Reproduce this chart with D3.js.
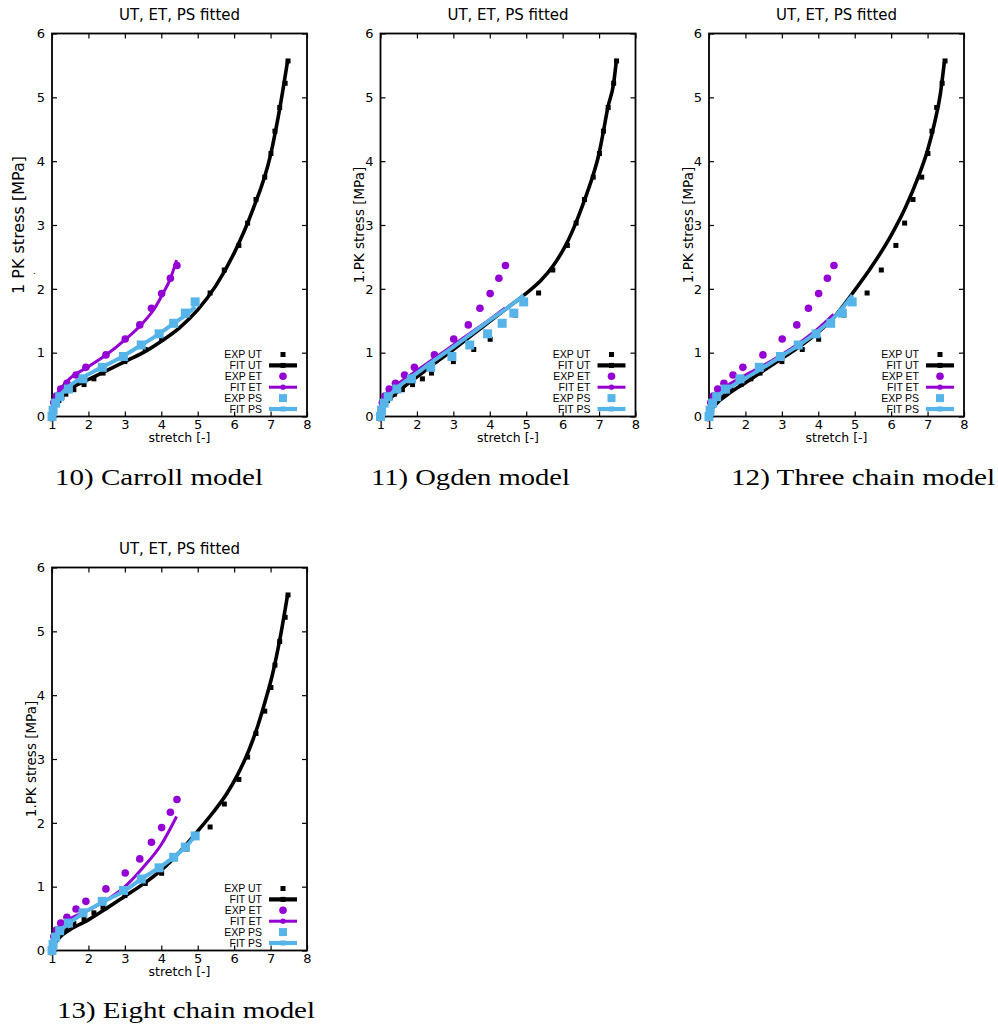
<!DOCTYPE html>
<html>
<head>
<meta charset="utf-8">
<script src="https://cdn.jsdelivr.net/npm/d3@7"></script>
<style>
  body { margin: 0; background: #fff; }
  svg { display: block; }
</style>
</head>
<body>
<div id="chart"></div>
<script>
// tick values
const xTicks = [1, 2, 3, 4, 5, 6, 7, 8];
const yTicks = [0, 1, 2, 3, 4, 5, 6];

// experimental data [stretch, stress] - same in every panel
const expUT = [[1.0,0],[1.03,0.07],[1.07,0.13],[1.12,0.19],[1.19,0.25],[1.27,0.30],[1.38,0.35],[1.6,0.42],[1.88,0.50],[2.15,0.59],[2.40,0.68],[3.0,0.86],[3.56,1.05],[4.01,1.21],[4.70,1.59],[5.34,1.935],[5.73,2.295],[6.13,2.68],[6.37,3.03],[6.60,3.40],[6.84,3.75],[7.01,4.12],[7.12,4.47],[7.25,4.84],[7.40,5.22],[7.48,5.57]];
const expET = [[1.0,0],[1.02,0.1],[1.05,0.22],[1.12,0.32],[1.24,0.43],[1.41,0.52],[1.66,0.65],[1.93,0.77],[2.48,0.965],[3.01,1.215],[3.41,1.435],[3.73,1.695],[4.01,1.925],[4.25,2.165],[4.43,2.365]];
const expPS = [[1.0,0],[1.03,0.1],[1.1,0.21],[1.21,0.31],[1.45,0.43],[1.85,0.59],[2.38,0.77],[2.96,0.94],[3.45,1.12],[3.94,1.295],[4.34,1.46],[4.66,1.62],[4.93,1.795]];

// fitted curves per model
const carrollUT = [[1,0],[1.05,0.14],[1.15,0.27],[1.3,0.36],[1.5,0.44],[2,0.58],[2.5,0.72],[3,0.86],[3.5,1.0],[4,1.18],[4.5,1.39],[5,1.67],[5.5,2.05],[6,2.56],[6.5,3.22],[7,4.1],[7.25,4.82],[7.47,5.58]];
const carrollET = [[1,0],[1.03,0.15],[1.1,0.3],[1.25,0.44],[1.5,0.6],[2,0.78],[2.5,0.97],[3,1.2],[3.5,1.47],[3.8,1.68],[4.05,1.93],[4.25,2.16],[4.42,2.45]];
const carrollPS = [[1,0],[1.03,0.1],[1.08,0.2],[1.18,0.3],[1.4,0.44],[1.8,0.6],[2.3,0.75],[2.9,0.93],[3.4,1.1],[3.9,1.28],[4.35,1.46],[4.7,1.6],[4.93,1.72]];

const ogdenUT = [[1,0],[1.05,0.1],[1.2,0.24],[1.5,0.4],[2,0.62],[2.5,0.84],[3,1.05],[3.5,1.27],[4,1.49],[4.5,1.71],[5,1.93],[5.4,2.13],[5.75,2.37],[6.1,2.7],[6.36,3.03],[6.6,3.39],[6.83,3.77],[7.0,4.12],[7.12,4.47],[7.24,4.84],[7.4,5.22],[7.48,5.6]];
const ogdenET = [[1,0],[1.02,0.12],[1.08,0.27],[1.2,0.38],[1.5,0.52],[2,0.72],[2.5,0.92],[3,1.12],[3.5,1.32],[4,1.52],[4.42,1.7]];
const ogdenPS = [[1,0],[1.03,0.1],[1.1,0.22],[1.25,0.33],[1.5,0.47],[2,0.68],[2.5,0.89],[3,1.09],[3.5,1.3],[4,1.51],[4.5,1.71],[4.93,1.9]];

const threeUT = [[1,0],[1.05,0.08],[1.2,0.2],[1.5,0.34],[2,0.53],[2.5,0.72],[3,0.91],[3.5,1.1],[4,1.32],[4.5,1.6],[4.94,1.93],[5.48,2.36],[6.03,2.87],[6.39,3.27],[6.75,3.76],[7.0,4.17],[7.2,4.62],[7.35,5.05],[7.46,5.55]];
const threeET = [[1,0],[1.02,0.12],[1.1,0.27],[1.3,0.4],[1.6,0.52],[2,0.65],[2.5,0.8],[3,0.97],[3.5,1.16],[4,1.38],[4.42,1.6]];
const threePS = [[1,0],[1.03,0.1],[1.1,0.2],[1.25,0.32],[1.5,0.43],[2,0.6],[2.5,0.77],[3,0.95],[3.5,1.13],[4,1.34],[4.5,1.59],[4.94,1.9]];

const eightUT = [[1,0],[1.05,0.08],[1.2,0.2],[1.5,0.33],[2,0.48],[2.5,0.66],[3,0.85],[3.5,1.04],[4,1.26],[4.5,1.54],[5,1.87],[5.43,2.17],[5.8,2.46],[6.1,2.76],[6.4,3.13],[6.65,3.52],[6.85,3.9],[7.05,4.32],[7.25,4.86],[7.47,5.58]];
const eightET = [[1,0],[1.02,0.14],[1.08,0.28],[1.2,0.38],[1.5,0.5],[2,0.63],[2.5,0.79],[3,1.0],[3.5,1.3],[4,1.66],[4.42,2.1]];
const eightPS = [[1,0],[1.03,0.1],[1.1,0.21],[1.25,0.32],[1.5,0.44],[1.85,0.58],[2.4,0.76],[3,0.94],[3.45,1.12],[3.95,1.3],[4.4,1.49],[4.7,1.64],[4.93,1.8]];

const captions = ["10) Carroll model", "11) Ogden model", "12) Three chain model", "13) Eight chain model"];
const titleText = "UT, ET, PS fitted";
const legendLabels = ["EXP UT", "FIT UT", "EXP ET", "FIT ET", "EXP PS", "FIT PS"];

const black = "#000000", purple = "#9400d3", blue = "#56b4e9";

// layout
const W = 255, H = 383;
const panels = [
    {left: 52, top: 33.5, fits: [carrollUT, carrollET, carrollPS], caption: captions[0], capX: 55, capY: 485, capLen: 208, ylab: "1 PK stress [MPa]", ylabSize: 16, ylabX: 18},
    {left: 380.5, top: 33.5, fits: [ogdenUT, ogdenET, ogdenPS], caption: captions[1], capX: 371, capY: 485, capLen: 199, ylab: "1.PK stress [MPa]", ylabSize: 13.5, ylabX: 359.5},
    {left: 709, top: 33.5, fits: [threeUT, threeET, threePS], caption: captions[2], capX: 731, capY: 485, capLen: 264, ylab: "1.PK stress [MPa]", ylabSize: 13.5, ylabX: 688},
    {left: 52, top: 567.5, fits: [eightUT, eightET, eightPS], caption: captions[3], capX: 57, capY: 1018, capLen: 258, ylab: "1.PK stress [MPa]", ylabSize: 13.5, ylabX: 31}
];

const svg = d3.select("#chart").append("svg")
    .attr("width", 998)
    .attr("height", 1028);

const sans = "DejaVu Sans, sans-serif";

panels.forEach((p, idx) => {
    let g = svg.append("g").attr("transform", `translate(${p.left}, ${p.top})`);

    let x = d3.scaleLinear().domain([1, 8]).range([0, W]);
    let y = d3.scaleLinear().domain([0, 6]).range([H, 0]);

    // title
    g.append("text")
        .attr("x", W / 2)
        .attr("y", -14)
        .attr("text-anchor", "middle")
        .attr("font-family", sans)
        .attr("font-size", "15px")
        .text(titleText);

    // ticks inward on all four sides (gnuplot mirror)
    let fmt = d3.format("d");
    let bottomAx = d3.axisBottom(x).tickValues(xTicks).tickFormat(fmt).tickSizeInner(-5).tickSizeOuter(0).tickPadding(8);
    let topAx = d3.axisTop(x).tickValues(xTicks).tickSizeInner(-5).tickSizeOuter(0).tickFormat("");
    let leftAx = d3.axisLeft(y).tickValues(yTicks).tickFormat(fmt).tickSizeInner(-5).tickSizeOuter(0).tickPadding(7);
    let rightAx = d3.axisRight(y).tickValues(yTicks).tickSizeInner(-5).tickSizeOuter(0).tickFormat("");

    let axB = g.append("g").attr("transform", `translate(0, ${H})`).call(bottomAx);
    let axT = g.append("g").call(topAx);
    let axL = g.append("g").call(leftAx);
    let axR = g.append("g").attr("transform", `translate(${W}, 0)`).call(rightAx);

    [axB, axT, axL, axR].forEach(a => {
        a.select(".domain").remove();
        a.selectAll("line").attr("stroke", "#000").attr("stroke-width", 1.2);
        a.selectAll("text").attr("font-family", sans).attr("font-size", "13px").attr("fill", "#000");
    });
    axB.selectAll("text").attr("dy", "0.71em").attr("y", 3.5);

    // frame
    g.append("rect")
        .attr("x", 0).attr("y", 0)
        .attr("width", W).attr("height", H)
        .attr("fill", "none")
        .attr("stroke", "#000")
        .attr("stroke-width", 1.8);

    // axis labels
    g.append("text")
        .attr("x", W / 2)
        .attr("y", H + 25.5)
        .attr("text-anchor", "middle")
        .attr("font-family", sans)
        .attr("font-size", "12.5px")
        .text("stretch [-]");

    svg.append("text")
        .attr("transform", `translate(${p.ylabX}, ${p.top + H / 2}) rotate(-90)`)
        .attr("text-anchor", "middle")
        .attr("dy", "0.36em")
        .attr("font-family", sans)
        .attr("font-size", p.ylabSize + "px")
        .text(p.ylab);

    if (idx === 0) {
        // stray dot of the label in the first panel
        svg.append("text")
            .attr("x", 33)
            .attr("y", 274)
            .attr("font-family", sans)
            .attr("font-size", "9px")
            .text(".");
    }

    let line = d3.line()
        .x(d => x(d[0]))
        .y(d => y(d[1]))
        .curve(d3.curveMonotoneX);

    // EXP UT
    g.append("g").selectAll("rect")
        .data(expUT).enter().append("rect")
        .attr("x", d => x(d[0]) - 2.5)
        .attr("y", d => y(d[1]) - 2.5)
        .attr("width", 5).attr("height", 5)
        .attr("fill", black);

    // FIT UT
    g.append("path")
        .datum(p.fits[0])
        .attr("d", line)
        .attr("fill", "none")
        .attr("stroke", black)
        .attr("stroke-width", 3.6);

    // EXP ET
    g.append("g").selectAll("circle")
        .data(expET).enter().append("circle")
        .attr("cx", d => x(d[0]))
        .attr("cy", d => y(d[1]))
        .attr("r", 3.8)
        .attr("fill", purple);

    // FIT ET
    g.append("path")
        .datum(p.fits[1])
        .attr("d", line)
        .attr("fill", "none")
        .attr("stroke", purple)
        .attr("stroke-width", 3);

    // EXP PS
    g.append("g").selectAll("rect")
        .data(expPS).enter().append("rect")
        .attr("x", d => x(d[0]) - 4.5)
        .attr("y", d => y(d[1]) - 4.5)
        .attr("width", 9).attr("height", 9)
        .attr("fill", blue);

    // FIT PS
    g.append("path")
        .datum(p.fits[2])
        .attr("d", line)
        .attr("fill", "none")
        .attr("stroke", blue)
        .attr("stroke-width", 4);

    // legend
    let leg = g.append("g").attr("transform", `translate(${W}, ${H - 62})`);
    let legStyle = [
        {type: "sq", size: 5, color: black},
        {type: "line", color: black, width: 4.2, mark: "sq"},
        {type: "circ", color: purple},
        {type: "line", color: purple, width: 3, mark: "circ"},
        {type: "sq", size: 8, color: blue},
        {type: "line", color: blue, width: 4.2, mark: "sq"}
    ];
    legendLabels.forEach((lab, i) => {
        let ry = i * 10.9;
        leg.append("text")
            .attr("x", -45)
            .attr("y", ry)
            .attr("dy", "0.36em")
            .attr("text-anchor", "end")
            .attr("font-family", "Liberation Sans, Arial, sans-serif")
            .attr("font-size", "10.5px")
            .text(lab);
        let s = legStyle[i];
        if (s.type === "sq") {
            leg.append("rect")
                .attr("x", -24 - s.size / 2).attr("y", ry - s.size / 2)
                .attr("width", s.size).attr("height", s.size)
                .attr("fill", s.color);
        } else if (s.type === "circ") {
            leg.append("circle")
                .attr("cx", -24).attr("cy", ry).attr("r", 3.8)
                .attr("fill", s.color);
        } else {
            leg.append("line")
                .attr("x1", -38).attr("x2", -10)
                .attr("y1", ry).attr("y2", ry)
                .attr("stroke", s.color)
                .attr("stroke-width", s.width);
            if (s.mark === "sq") {
                leg.append("rect")
                    .attr("x", -26.5).attr("y", ry - 2.5)
                    .attr("width", 5).attr("height", 5)
                    .attr("fill", s.color);
            } else {
                leg.append("circle")
                    .attr("cx", -24).attr("cy", ry).attr("r", 2.6)
                    .attr("fill", s.color);
            }
        }
    });

    // caption under the panel
    svg.append("text")
        .attr("x", p.capX)
        .attr("y", p.capY)
        .attr("font-family", "Liberation Serif, DejaVu Serif, serif")
        .attr("font-size", "24px")
        .attr("textLength", p.capLen)
        .attr("lengthAdjust", "spacingAndGlyphs")
        .text(p.caption);
});
</script>
</body>
</html>
